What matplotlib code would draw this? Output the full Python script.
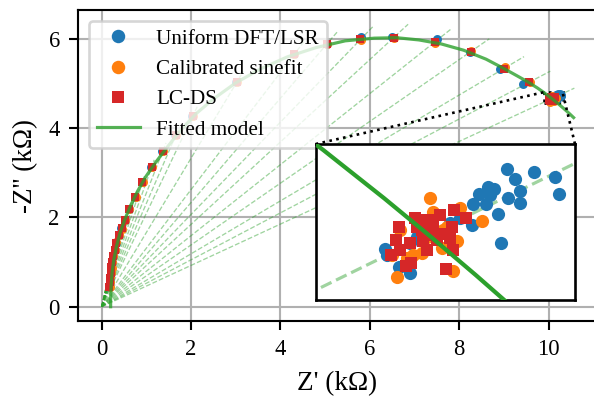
import matplotlib
matplotlib.use('Agg')
import matplotlib.pyplot as plt
from mpl_toolkits.axes_grid1.inset_locator import mark_inset

plt.rcParams['font.family'] = ['Liberation Serif', 'DejaVu Serif']
plt.rcParams['font.size'] = 8

# ---- per-frequency data (kOhm) ----
lcds_re = [0.17, 0.18, 0.19, 0.20, 0.21, 0.23, 0.26, 0.29, 0.33, 0.38, 0.45, 0.52, 0.61, 0.75, 0.91,
           1.12, 1.37, 1.66, 2.04, 3.02, 4.31, 5.04, 5.79, 6.53, 7.46, 8.26, 9.00, 9.56, 10.073]
lcds_im = [0.45, 0.55, 0.65, 0.76, 0.88, 1.00, 1.13, 1.28, 1.43, 1.60, 1.76, 1.94, 2.18, 2.46, 2.78,
           3.13, 3.49, 3.84, 4.27, 5.02, 5.65, 5.88, 5.98, 6.02, 5.93, 5.71, 5.33, 5.02, 4.658]

cal_re = [0.18, 0.19, 0.19, 0.21, 0.22, 0.23, 0.26, 0.30, 0.33, 0.39, 0.45, 0.53, 0.61, 0.76, 0.92,
          1.12, 1.38, 1.66, 2.05, 3.02, 4.30, 5.04, 5.80, 6.54, 7.45, 8.27, 9.02, 9.58, 10.07]
cal_im = [0.44, 0.55, 0.66, 0.76, 0.87, 1.00, 1.14, 1.27, 1.44, 1.60, 1.75, 1.95, 2.18, 2.45, 2.79,
          3.12, 3.48, 3.84, 4.26, 5.03, 5.66, 5.87, 5.97, 6.01, 5.91, 5.72, 5.36, 5.04, 4.66]

uni_re = [0.17, 0.18, 0.19, 0.20, 0.21, 0.22, 0.25, 0.29, 0.33, 0.38, 0.44, 0.52, 0.61, 0.74, 0.90,
          1.11, 1.36, 1.65, 2.03, 3.01, 4.31, 5.05, 5.81, 6.49, 7.51, 8.25, 8.92, 9.42, 10.18]
uni_im = [0.45, 0.55, 0.65, 0.76, 0.88, 1.01, 1.13, 1.28, 1.43, 1.60, 1.76, 1.94, 2.18, 2.46, 2.78,
          3.13, 3.49, 3.84, 4.27, 5.02, 5.66, 5.89, 6.03, 6.03, 6.00, 5.71, 5.32, 4.99, 4.73]

# ---- repeated estimates at the lowest frequency (shown in inset) ----
uni_cl_re = [10.202, 10.246, 10.280, 10.215, 10.170, 10.223, 10.156, 10.173, 10.286, 10.204, 10.223,
             10.146, 10.167, 10.187, 10.125, 10.145, 10.191, 10.002, 10.005, 10.042, 10.024, 10.043,
             10.081, 10.054, 10.108]
uni_cl_im = [4.760, 4.755, 4.748, 4.744, 4.732, 4.726, 4.722, 4.720, 4.721, 4.715, 4.708,
             4.706, 4.706, 4.690, 4.685, 4.674, 4.645, 4.636, 4.627, 4.645, 4.608, 4.599,
             4.666, 4.655, 4.676]
cal_cl_re = [10.075, 10.124, 10.160, 10.080, 10.120, 10.095, 10.062, 10.026, 10.021, 10.113, 10.037,
             10.048, 10.013, 10.097, 10.054, 10.103, 10.070]
cal_cl_im = [4.716, 4.699, 4.680, 4.694, 4.648, 4.637, 4.630, 4.666, 4.592, 4.602, 4.622,
             4.627, 4.627, 4.666, 4.681, 4.671, 4.655]
lcds_cl_re = [10.050, 10.092, 10.115, 10.134, 10.025, 10.070, 10.081, 10.112, 10.062, 10.092, 10.108,
              10.019, 10.043, 10.064, 10.026, 10.011, 10.070, 10.113, 10.045, 10.036, 10.102, 10.078,
              10.054, 10.086]
lcds_cl_im = [4.685, 4.689, 4.696, 4.685, 4.671, 4.681, 4.671, 4.670, 4.666, 4.660, 4.653,
              4.650, 4.645, 4.648, 4.635, 4.627, 4.635, 4.635, 4.614, 4.609, 4.605, 4.681,
              4.671, 4.650]

# ---- fitted model curve ----
model_re = [0.20, 0.20, 0.21, 0.23, 0.27, 0.33, 0.41, 0.52, 0.65, 0.80, 0.98, 1.20, 1.45, 1.75, 2.10,
            2.50, 3.00, 3.55, 4.15, 4.80, 5.45, 6.10, 6.60, 7.10, 7.60, 8.10, 8.60, 9.00, 9.30, 9.55,
            9.75, 9.90, 10.00, 10.073, 10.15, 10.25, 10.35, 10.45, 10.56]
model_im = [0.00, 0.20, 0.45, 0.75, 1.05, 1.35, 1.65, 1.96, 2.27, 2.58, 2.90, 3.22, 3.55, 3.93, 4.31,
            4.65, 5.01, 5.32, 5.59, 5.80, 5.95, 6.01, 6.02, 5.97, 5.88, 5.74, 5.54, 5.33, 5.164, 5.023,
            4.895, 4.790, 4.715, 4.658, 4.596, 4.513, 4.426, 4.336, 4.232]

RAY_EXT = 1.05
C_UNI, C_CAL, C_LC, C_MOD = '#1f77b4', '#ff7f0e', '#d62728', '#2ca02c'

fig = plt.figure(figsize=(594 / 190, 397 / 190), dpi=190)
ax = fig.add_axes([0.1318, 0.1914, 0.8715, 0.7834])


def draw(a, ms_o, ms_s, lw_ray, lw_mod, mod_alpha, labels):
    for x, y in zip(lcds_re, lcds_im):
        a.plot([0, RAY_EXT * x], [0, RAY_EXT * y], ls='--', color=C_MOD, alpha=0.45,
               lw=lw_ray, zorder=1)
    a.plot(uni_re, uni_im, 'o', color=C_UNI, ms=ms_o, mew=0, zorder=2,
           label='Uniform DFT/LSR' if labels else None)
    a.plot(uni_cl_re, uni_cl_im, 'o', color=C_UNI, ms=ms_o, mew=0, zorder=2)
    a.plot(cal_re, cal_im, 'o', color=C_CAL, ms=ms_o, mew=0, zorder=2.1,
           label='Calibrated sinefit' if labels else None)
    a.plot(cal_cl_re, cal_cl_im, 'o', color=C_CAL, ms=ms_o, mew=0, zorder=2.1)
    a.plot(lcds_re, lcds_im, 's', color=C_LC, ms=ms_s, mew=0, zorder=2.2,
           label='LC-DS' if labels else None)
    a.plot(lcds_cl_re, lcds_cl_im, 's', color=C_LC, ms=ms_s, mew=0, zorder=2.2)
    a.plot(model_re, model_im, '-', color=C_MOD, lw=lw_mod, alpha=mod_alpha, zorder=3,
           label='Fitted model' if labels else None)


draw(ax, 3.4, 3.1, 0.5, 1.2, 0.8, True)
ax.set_xlim(-0.524, 11.06)
ax.set_ylim(-0.32, 6.64)
ax.set_xticks([0, 2, 4, 6, 8, 10])
ax.set_yticks([0, 2, 4, 6])
ax.tick_params(labelsize=8.6)
ax.grid(True, color='#b0b0b0', lw=0.8)
ax.set_axisbelow(True)
ax.set_xlabel("Z' (kΩ)", fontsize=10.3)
ax.set_ylabel("-Z'' (kΩ)", fontsize=10.3)
ax.legend(loc='upper left', markerscale=1.5)

axins = fig.add_axes([0.5315, 0.2443, 0.4365, 0.3929])
draw(axins, 5.0, 4.8, 1.2, 1.6, 1.0, False)
axins.set_xlim(9.888, 10.313)
axins.set_ylim(4.557, 4.799)
axins.set_xticks([])
axins.set_yticks([])
for s in axins.spines.values():
    s.set_linewidth(1.0)

mark_inset(ax, axins, loc1=1, loc2=2, fc='none', ec='k', ls=':', lw=1.0)

fig.savefig('out.png', dpi=190)
